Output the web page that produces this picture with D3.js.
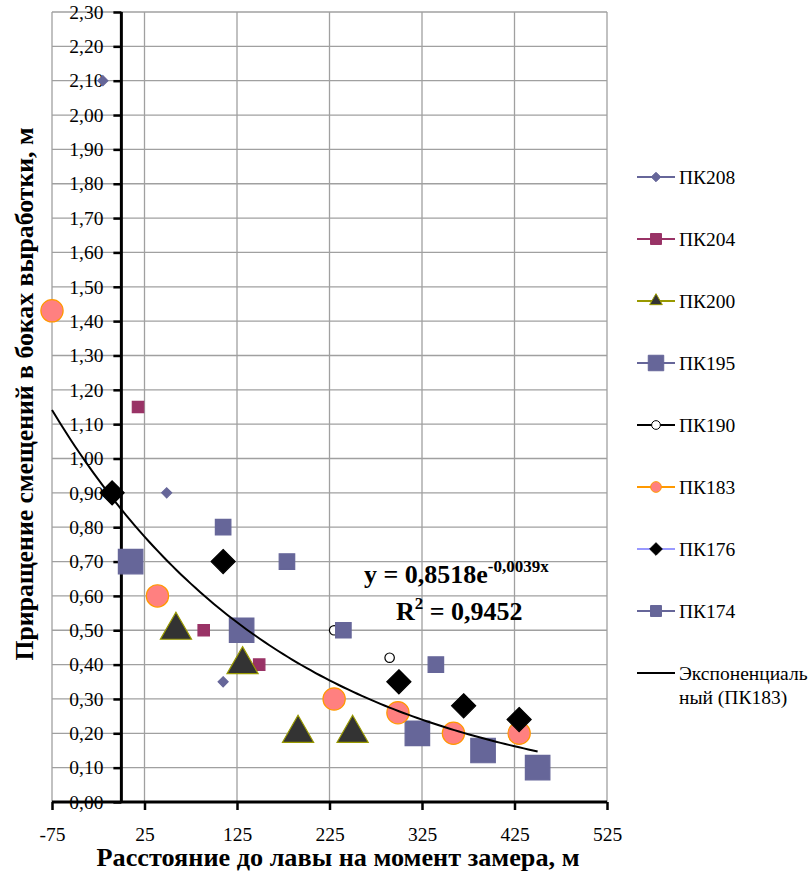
<!DOCTYPE html>
<html>
<head>
<meta charset="utf-8">
<script src="https://cdn.jsdelivr.net/npm/d3@7"></script>
<style>
  body { margin: 0; background: #fff; }
</style>
</head>
<body>
<svg width="812" height="881" font-family="Liberation Serif"></svg>
<script>
// данные: [расстояние, м ; приращение, м]
var pk208 = [[-20, 2.10], [49, 0.90], [110, 0.35]];
var pk204 = [[18, 1.15], [89, 0.50], [149, 0.40]];
var pk200 = [[59, 0.50], [131, 0.40], [191, 0.20], [250, 0.20]];
var pk195 = [[10, 0.70], [130, 0.50], [320, 0.20], [391, 0.15], [450, 0.10]];
var pk190 = [[230, 0.50], [290, 0.42]];
var pk183 = [[-75, 1.43], [39, 0.60], [230, 0.30], [299, 0.26], [359, 0.20], [430, 0.20]];
var pk176 = [[-10, 0.90], [110, 0.70], [300, 0.35], [370, 0.28], [430, 0.24]];
var pk174 = [[110, 0.80], [179, 0.70], [240, 0.50], [340, 0.40]];

var xTicks = [-75, 25, 125, 225, 325, 425, 525];
var yTicks = d3.range(0, 24).map(function (i) { return i / 10; });

// линия тренда (экспонента по ПК183), коэффициенты из подписи
var trendA = 0.8518, trendB = -0.0039, trendR2 = 0.9452;
var trendFrom = -75, trendTo = 450;

var FONT = "Liberation Serif";

// ромб = квадрат, повернутый на 45 градусов
var diamond = {
    draw: function (ctx, size) {
        var r = Math.sqrt(size / 2);
        ctx.moveTo(0, -r); ctx.lineTo(r, 0); ctx.lineTo(0, r); ctx.lineTo(-r, 0); ctx.closePath();
    }
};

var series = [
    { name: "ПК208", data: pk208, shape: diamond, size: 50,  fill: "#666699", stroke: "#666699", line: "#666699", lsize: 45 },
    { name: "ПК204", data: pk204, shape: d3.symbolSquare,  size: 130, fill: "#993366", stroke: "#993366", line: "#993366", lsize: 120 },
    { name: "ПК200", data: pk200, shape: d3.symbolTriangle, size: 420, fill: "#333333", stroke: "#999900", line: "#999900", lsize: 70 },
    { name: "ПК195", data: pk195, shape: d3.symbolSquare,  size: 600, fill: "#666699", stroke: "#666699", line: "#666699", lsize: 240 },
    { name: "ПК190", data: pk190, shape: d3.symbolCircle,  size: 70,  fill: "#ffffff", stroke: "#000000", line: "#000000", lsize: 60 },
    { name: "ПК183", data: pk183, shape: d3.symbolCircle,  size: 390, fill: "#ff8080", stroke: "#ff9900", line: "#ff9900", lsize: 90 },
    { name: "ПК176", data: pk176, shape: diamond, size: 290, fill: "#000000", stroke: "#000000", line: "#9999ff", lsize: 80 },
    { name: "ПК174", data: pk174, shape: d3.symbolSquare,  size: 240, fill: "#666699", stroke: "#666699", line: "#666699", lsize: 120 }
];

var svg = d3.select("svg");
var x = d3.scaleLinear().domain([-75, 525]).range([52, 607]);
var y = d3.scaleLinear().domain([0, 2.3]).range([802, 12]);
var fmt = function (v) { return d3.format(".2f")(v).replace(".", ","); };
function fmt4(v) { return d3.format(".4f")(v).replace(".", ",").replace("\u2212", "-"); }

// сетка
svg.append("g").selectAll("line").data(yTicks).enter().append("line")
    .attr("x1", x(-75)).attr("x2", x(525))
    .attr("y1", d => y(d)).attr("y2", d => y(d))
    .attr("stroke", "#a0a0a0").attr("stroke-width", 1.3);
svg.append("g").selectAll("line").data(xTicks).enter().append("line")
    .attr("x1", d => x(d)).attr("x2", d => x(d))
    .attr("y1", y(2.3)).attr("y2", y(0))
    .attr("stroke", "#a0a0a0").attr("stroke-width", 1.3);

// оси
var yAxis = svg.append("g")
    .attr("transform", "translate(" + x(0) + ",0)")
    .call(d3.axisLeft(y).tickValues(yTicks).tickSize(8).tickPadding(6).tickFormat(fmt));
yAxis.attr("font-family", FONT);
yAxis.select(".domain").attr("stroke-width", 3).attr("d", "M0," + y(2.3) + "V" + y(0));
yAxis.selectAll(".tick line").attr("stroke-width", 2.5);
yAxis.selectAll("text").attr("font-size", 19.5).attr("fill", "#000").attr("dx", -4);

var xAxis = svg.append("g")
    .attr("transform", "translate(0," + y(0) + ")")
    .call(d3.axisBottom(x).tickValues(xTicks).tickSize(8).tickPadding(20)
        .tickFormat(d => String(d)));
xAxis.attr("font-family", FONT);
xAxis.select(".domain").attr("stroke-width", 3).attr("d", "M" + x(-75) + ",0H" + x(525));
xAxis.selectAll(".tick line").attr("stroke-width", 2.5);
xAxis.selectAll("text").attr("font-size", 19.5).attr("fill", "#000").attr("dy", "0.55em");

// тренд
var trendPts = d3.range(trendFrom, trendTo + 1, 5).map(function (v) { return [v, trendA * Math.exp(trendB * v)]; });
var lineMaker = d3.line().x(d => x(d[0])).y(d => y(d[1]));

// точки
series.forEach(function (s) {
    var sym = d3.symbol().type(s.shape).size(s.size);
    svg.append("g").selectAll("path").data(s.data).enter().append("path")
        .attr("d", sym)
        .attr("transform", d => "translate(" + x(d[0]) + "," + y(d[1]) + ")")
        .attr("fill", s.fill).attr("stroke", s.stroke).attr("stroke-width", 1.2);
});

svg.append("path")
    .attr("d", lineMaker(trendPts))
    .attr("fill", "none").attr("stroke", "#000").attr("stroke-width", 2);

// подписи уравнения
var eq = svg.append("text").attr("x", 364).attr("y", 583).attr("font-family", FONT)
    .attr("font-size", 26).attr("font-weight", "bold");
eq.append("tspan").text("y = " + fmt4(trendA) + "e");
eq.append("tspan").attr("dy", -11).attr("font-size", 17).text(fmt4(trendB) + "x");

var r2 = svg.append("text").attr("x", 396).attr("y", 620).attr("font-family", FONT)
    .attr("font-size", 26).attr("font-weight", "bold");
r2.append("tspan").text("R");
r2.append("tspan").attr("dy", -11).attr("font-size", 17).text("2");
r2.append("tspan").attr("dy", 11).text(" = " + fmt4(trendR2));

// легенда
var legY = d3.scaleLinear().domain([0, 8]).range([177, 673]);
var leg = svg.append("g").attr("font-family", FONT);
series.forEach(function (s, i) {
    var g = leg.append("g").attr("transform", "translate(637," + legY(i) + ")");
    g.append("line").attr("x1", 0).attr("x2", 38).attr("stroke", s.line).attr("stroke-width", 2);
    g.append("path").attr("d", d3.symbol().type(s.shape).size(s.lsize))
        .attr("transform", "translate(19,0)")
        .attr("fill", s.fill).attr("stroke", s.stroke).attr("stroke-width", 1);
    g.append("text").attr("x", 42).attr("y", 7).attr("font-size", 19.5).text(s.name);
});
var gt = leg.append("g").attr("transform", "translate(637," + legY(8) + ")");
gt.append("line").attr("x1", 0).attr("x2", 38).attr("stroke", "#000").attr("stroke-width", 2);
gt.append("text").attr("x", 42).attr("y", 7).attr("font-size", 19.5).text("Экспоненциаль");
gt.append("text").attr("x", 42).attr("y", 31).attr("font-size", 19.5).text("ный (ПК183)");

// названия осей
svg.append("text").attr("x", 338).attr("y", 866).attr("text-anchor", "middle")
    .attr("font-family", FONT).attr("font-size", 26).attr("font-weight", "bold")
    .attr("textLength", 483).attr("lengthAdjust", "spacingAndGlyphs")
    .text("Расстояние до лавы на момент замера, м");
svg.append("text").attr("transform", "translate(33,394) rotate(-90)").attr("text-anchor", "middle")
    .attr("font-family", FONT).attr("font-size", 26).attr("font-weight", "bold")
    .attr("textLength", 533).attr("lengthAdjust", "spacingAndGlyphs")
    .text("Приращение смещений в боках выработки, м");
</script>
</body>
</html>
